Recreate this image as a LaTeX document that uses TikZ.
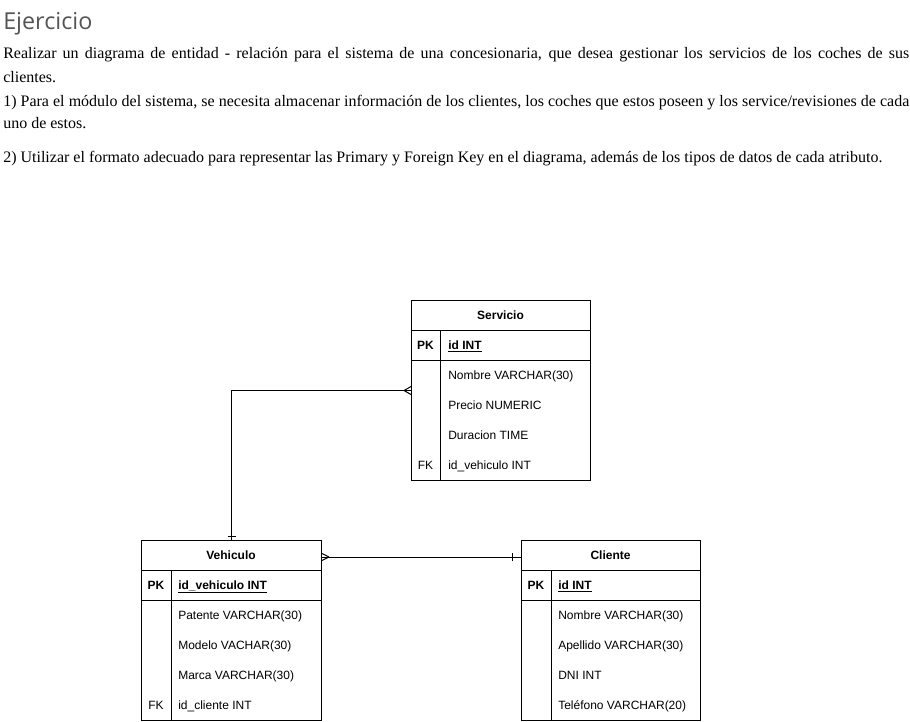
\documentclass[tikz,border=0pt]{standalone}
\usepackage{fontspec}
\usetikzlibrary{calc}
\setmainfont{Liberation Serif}
\newfontfamily\tblfont{Liberation Sans}
\newfontfamily\titlefont{Open Sans}
\definecolor{titlegray}{HTML}{555555}
\begin{document}
\begin{tikzpicture}[x=0.75pt,y=-0.75pt,
  tbl/.style={draw=black, line width=0.75pt, fill=white, inner sep=0pt, anchor=north west},
  hdr/.style={inner sep=0pt, text height=6.5pt, text depth=0pt, font=\tblfont\fontsize{9}{10}\selectfont\bfseries},
  keytxt/.style={inner sep=0pt, text height=6.5pt, text depth=0pt, font=\tblfont\fontsize{9}{10}\selectfont},
  attr/.style={inner sep=0pt, anchor=west, text height=6.5pt, text depth=0pt, font=\tblfont\fontsize{9}{10}\selectfont},
  sep/.style={line width=0.75pt},
  rel/.style={line width=0.75pt},
  bodyline/.style={inner sep=0pt, anchor=base west, font=\fontsize{12}{14}\selectfont}
]
\useasboundingbox (0,0) rectangle (910,721);

% ---- text ----
\node[inner sep=0pt, anchor=base west, text=titlegray, font=\titlefont\fontsize{17.5}{20}\selectfont] (title) at (3,29.5) {Ejercicio};
\node[bodyline] (l1) at (3,58.5) {\makebox[679.5pt][s]{Realizar un diagrama de entidad - relación para el sistema de una concesionaria, que desea gestionar los servicios de los coches de sus}};
\node[bodyline] (l2) at (3,82) {clientes.};
\node[bodyline] (l3) at (3,106) {\makebox[679.5pt][s]{1) Para el módulo del sistema, se necesita almacenar información de los clientes, los coches que estos poseen y los service/revisiones de cada}};
\node[bodyline] (l4) at (3,128.5) {uno de estos.};
\node[bodyline] (l5) at (3,162) {2) Utilizar el formato adecuado para representar las Primary y Foreign Key en el diagrama, además de los tipos de datos de cada atributo.};

% ---- Servicio ----
\node[tbl, minimum width=134.25pt, minimum height=135pt] (serv) at (411,300) {};
\node[hdr] (servT) at (500.5,315) {Servicio};
\draw[sep] (411,330) -- (590,330);
\draw[sep] (411,360) -- (590,360);
\draw[sep] (440,330) -- (440,480);
\node[keytxt, font=\tblfont\fontsize{9}{10}\selectfont\bfseries] (servPK) at (425.5,345) {PK};
\node[attr, font=\tblfont\fontsize{9}{10}\selectfont\bfseries] (servA0) at (448,345) {\underline{id INT}};
\node[attr] (servA1) at (448,375) {Nombre VARCHAR(30)};
\node[attr] (servA2) at (448,405) {Precio NUMERIC};
\node[attr] (servA3) at (448,435) {Duracion TIME};
\node[keytxt] (servFK) at (425.5,465) {FK};
\node[attr] (servA4) at (448,465) {id\_vehiculo INT};

% ---- Vehiculo ----
\node[tbl, minimum width=135pt, minimum height=135pt] (veh) at (141,540) {};
\node[hdr] (vehT) at (231,555) {Vehiculo};
\draw[sep] (141,570) -- (321,570);
\draw[sep] (141,600) -- (321,600);
\draw[sep] (171,570) -- (171,720);
\node[keytxt, font=\tblfont\fontsize{9}{10}\selectfont\bfseries] (vehPK) at (156,585) {PK};
\node[attr, font=\tblfont\fontsize{9}{10}\selectfont\bfseries] (vehA0) at (178,585) {\underline{id\_vehiculo INT}};
\node[attr] (vehA1) at (178,615) {Patente VARCHAR(30)};
\node[attr] (vehA2) at (178,645) {Modelo VACHAR(30)};
\node[attr] (vehA3) at (178,675) {Marca VARCHAR(30)};
\node[keytxt] (vehFK) at (156,705) {FK};
\node[attr] (vehA4) at (178,705) {id\_cliente INT};

% ---- Cliente ----
\node[tbl, minimum width=134.25pt, minimum height=135pt] (cli) at (521,540) {};
\node[hdr] (cliT) at (610.5,555) {Cliente};
\draw[sep] (521,570) -- (700,570);
\draw[sep] (521,600) -- (700,600);
\draw[sep] (551,570) -- (551,720);
\node[keytxt, font=\tblfont\fontsize{9}{10}\selectfont\bfseries] (cliPK) at (536,585) {PK};
\node[attr, font=\tblfont\fontsize{9}{10}\selectfont\bfseries] (cliA0) at (558,585) {\underline{id INT}};
\node[attr] (cliA1) at (558,615) {Nombre VARCHAR(30)};
\node[attr] (cliA2) at (558,645) {Apellido VARCHAR(30)};
\node[attr] (cliA3) at (558,675) {DNI INT};
\node[attr] (cliA4) at (558,705) {Teléfono VARCHAR(20)};

% ---- connectors ----
\coordinate (vehTop) at (veh.north);
\coordinate (servLeft) at (serv.west);
\draw[rel] (vehTop) |- (servLeft);
\draw[rel] ($(servLeft)+(-7,0)$) -- ($(servLeft)+(0,-4)$);
\draw[rel] ($(servLeft)+(-7,0)$) -- ($(servLeft)+(0,4)$);
\draw[rel] ($(vehTop)+(-4,-4)$) -- ($(vehTop)+(4,-4)$);

\coordinate (vehRight) at ($(veh.north east)+(0,17)$);
\coordinate (cliLeft) at ($(cli.north west)+(0,17)$);
\draw[rel] (vehRight) -- (cliLeft);
\draw[rel] ($(vehRight)+(7,0)$) -- ($(vehRight)+(0,-3.5)$);
\draw[rel] ($(vehRight)+(7,0)$) -- ($(vehRight)+(0,3.5)$);
\draw[rel] ($(cliLeft)+(-9,-4)$) -- ($(cliLeft)+(-9,4)$);
\end{tikzpicture}
\end{document}
